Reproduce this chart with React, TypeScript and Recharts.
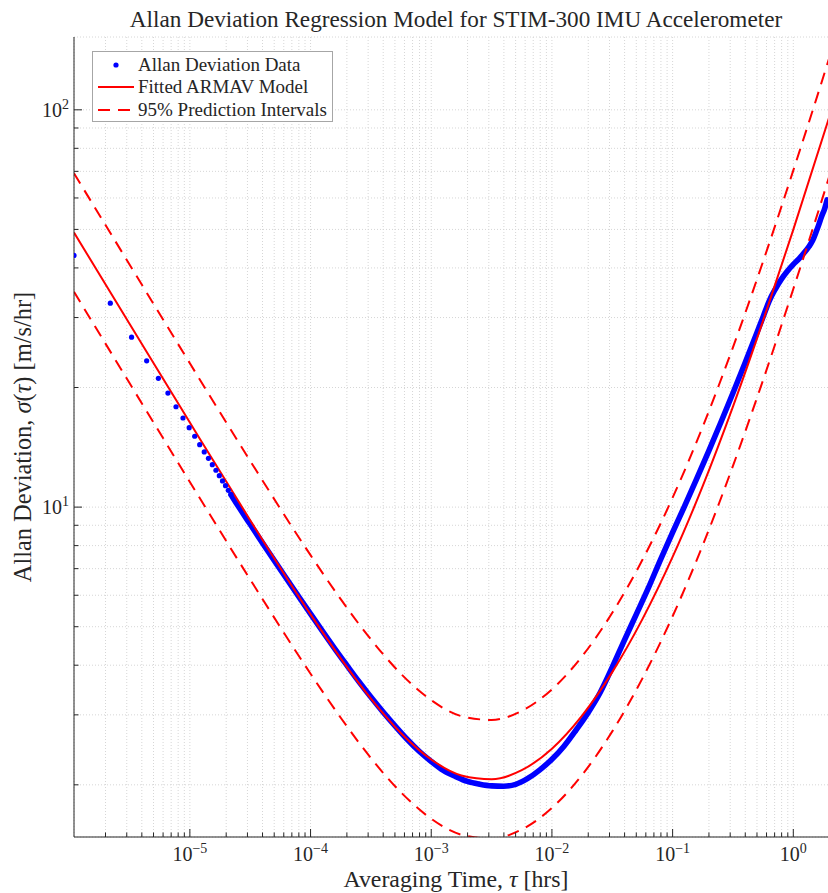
import { CartesianGrid, ComposedChart, Label, Legend, Line, Scatter, XAxis, YAxis } from 'recharts'

const FONT = '"Liberation Serif", "Times New Roman", serif'
const INK = '#262626'
const BLUE = '#0000ff'
const RED = '#ff0000'

const TITLE = 'Allan Deviation Regression Model for STIM-300 IMU Accelerometer'

// axis limits, hrs and m/s/hr
const X_MIN = 1.0965e-6
const X_MAX = 2.346
const Y_MIN = 1.478
const Y_MAX = 152.5

// first clusters (one sample step apart)
const sparseTau = [
  1.0965e-6, 2.193e-6, 3.2895e-6, 4.386e-6, 5.4825e-6, 6.579e-6, 7.6755e-6, 8.772e-6, 9.8685e-6, 1.0965e-5,
  1.2062e-5, 1.3158e-5, 1.4255e-5, 1.5351e-5, 1.6448e-5, 1.7544e-5, 1.8641e-5, 1.9737e-5, 2.0834e-5, 2.193e-5,
]
const sparseSigma = [
  43.0, 32.6, 26.77, 23.34, 21.09, 19.36, 17.89, 16.76, 15.85, 15.08,
  14.36, 13.77, 13.27, 12.79, 12.38, 12.0, 11.64, 11.32, 11.02, 10.75,
]

// the rest of the clusters (so many they overlap)
const denseTau = [
  2.193e-5, 2.3e-5, 3.162e-5, 3.981e-5, 5.012e-5, 6.31e-5, 7.943e-5, 1e-4, 1.259e-4, 1.585e-4, 1.995e-4,
  2.512e-4, 3.162e-4, 3.981e-4, 5.012e-4, 6.31e-4, 7.943e-4, 1e-3, 1.259e-3, 1.585e-3, 1.995e-3,
  2.512e-3, 3.162e-3, 3.981e-3, 5.012e-3, 6.31e-3, 7.943e-3, 0.01, 0.01259, 0.01585, 0.01995,
  0.02512, 0.03162, 0.03981, 0.05012, 0.0631, 0.07943, 0.1, 0.1259, 0.1585, 0.1995,
  0.2512, 0.3162, 0.3981, 0.5012, 0.5623, 0.631, 0.7079, 0.7943, 0.8913, 1.0,
  1.122, 1.259, 1.349, 1.445, 1.549, 1.622, 1.718, 1.82, 1.905,
]
const denseSigma = [
  10.75, 10.5, 9.05, 8.14, 7.333, 6.613, 5.966, 5.385, 4.867, 4.406, 4.002,
  3.64, 3.327, 3.053, 2.815, 2.605, 2.43, 2.29, 2.174, 2.1, 2.04,
  2.008, 1.988, 1.984, 2.006, 2.075, 2.181, 2.32, 2.502, 2.748, 3.039,
  3.416, 3.954, 4.62, 5.38, 6.27, 7.38, 8.64, 10.07, 11.79, 13.85,
  16.35, 19.37, 23.05, 27.54, 30.13, 33.02, 35.34, 37.43, 39.23, 40.83,
  42.29, 44.07, 45.28, 46.88, 49.38, 51.27, 53.97, 56.42, 59.3,
]

// fitted ARMAV model and its 95% prediction band
const modelTau = [
  1.0965e-6, 3.162e-6, 1e-5, 3.162e-5, 1e-4, 1.778e-4, 3.162e-4, 5.623e-4, 1e-3, 1.778e-3, 3.162e-3,
  5.623e-3, 0.01, 0.01778, 0.03162, 0.05623, 0.1, 0.1778, 0.3162, 0.5623, 1, 1.995, 2.4,
]
const fitSigma = [
  49.09, 28.94, 16.32, 9.268, 5.369, 4.16, 3.294, 2.697, 2.316, 2.112, 2.066,
  2.177, 2.466, 2.987, 3.843, 5.225, 7.492, 11.31, 17.91, 29.47, 49.92, 96.3, 115.6,
]
const upperSigma = [
  69.22, 40.81, 23.01, 13.07, 7.57, 5.866, 4.645, 3.803, 3.266, 2.978, 2.913,
  3.07, 3.477, 4.212, 5.419, 7.367, 10.56, 15.95, 25.25, 41.55, 70.39, 135.8, 163.0,
]
const lowerSigma = [
  34.82, 20.52, 11.57, 6.573, 3.808, 2.95, 2.336, 1.913, 1.643, 1.498, 1.465,
  1.544, 1.749, 2.118, 2.726, 3.706, 5.313, 8.021, 12.7, 20.9, 35.4, 68.3, 82.0,
]

// log axes: decades with 1..9 steps, labels only on the decades
const xDecades = [1e-6, 1e-5, 1e-4, 1e-3, 1e-2, 1e-1, 1]
const yDecades = [1, 10, 100]
const minorSteps = [1, 2, 3, 4, 5, 6, 7, 8, 9]

const logTicks = (decades: number[], lo: number, hi: number) =>
  decades.flatMap((d) => minorSteps.map((m) => m * d)).filter((v) => v >= lo && v <= hi)

const xTicks = logTicks(xDecades, X_MIN, X_MAX)
const yTicks = logTicks(yDecades, Y_MIN, Y_MAX)

const toRows = (tau: number[], sigma: number[]) => tau.map((t, i) => ({ tau: t, sigma: sigma[i] }))

const sparseData = toRows(sparseTau, sparseSigma)
const denseData = toRows(denseTau, denseSigma)
const fitData = toRows(modelTau, fitSigma)
const upperData = toRows(modelTau, upperSigma)
const lowerData = toRows(modelTau, lowerSigma)

const decade = (v: number) => {
  const p = Math.round(Math.log10(v))
  return Math.abs(Math.log10(v) - p) < 1e-6 ? p : null
}

const power = (p: number) => (p < 0 ? '\u2212' + Math.abs(p) : String(p))

function XTick(props: any) {
  const { x, y, payload, side } = props
  const p = decade(payload.value)
  const len = p !== null ? 8 : 4.5
  const dir = side === 'top' ? 1 : -1
  return (
    <g>
      <line x1={x} x2={x} y1={y} y2={y + dir * len} stroke={INK} strokeWidth={1} />
      {side !== 'top' && p !== null && (
        <text x={x} y={y + 24} textAnchor='middle' fontFamily={FONT} fontSize={20} fill={INK}>
          10
          <tspan dy={-8} fontSize={14}>
            {power(p)}
          </tspan>
        </text>
      )}
    </g>
  )
}

function YTick(props: any) {
  const { x, y, payload } = props
  const p = decade(payload.value)
  const len = p !== null ? 8 : 4.5
  return (
    <g>
      <line x1={x} x2={x + len} y1={y} y2={y} stroke={INK} strokeWidth={1} />
      {p !== null && (
        <text x={x - 5} y={y + 7} textAnchor='end' fontFamily={FONT} fontSize={20} fill={INK}>
          10
          <tspan dy={-8} fontSize={14}>
            {power(p)}
          </tspan>
        </text>
      )}
    </g>
  )
}

function XTitle(props: any) {
  const { x, y, width } = props.viewBox
  return (
    <text x={x + width / 2} y={y + 50} textAnchor='middle' fontFamily={FONT} fontSize={23.8} fill={INK}>
      Averaging Time, <tspan fontStyle='italic'>τ</tspan> [hrs]
    </text>
  )
}

function YTitle(props: any) {
  const { y, height } = props.viewBox
  const cx = 31
  const cy = y + height / 2
  return (
    <text
      x={cx}
      y={cy}
      transform={`rotate(-90 ${cx} ${cy})`}
      textAnchor='middle'
      fontFamily={FONT}
      fontSize={24.4}
      fill={INK}
    >
      Allan Deviation, <tspan fontStyle='italic'>σ</tspan>(<tspan fontStyle='italic'>τ</tspan>) [m/s/hr]
    </text>
  )
}

const legendRows = [
  { label: 'Allan Deviation Data', kind: 'dot' },
  { label: 'Fitted ARMAV Model', kind: 'solid' },
  { label: '95% Prediction Intervals', kind: 'dashed' },
]

function LegendBox() {
  return (
    <div
      style={{
        position: 'relative',
        width: 241,
        height: 71,
        boxSizing: 'border-box',
        border: '1px solid #a6a6a6',
        background: '#fff',
        fontFamily: FONT,
        fontSize: 19,
        color: INK,
      }}
    >
      {legendRows.map((r, i) => (
        <div key={r.label} style={{ position: 'absolute', left: 0, top: 2 + i * 22.3, height: 22, width: 239 }}>
          <svg width={40} height={22} style={{ position: 'absolute', left: 4, top: 0 }}>
            {r.kind === 'dot' && <circle cx={19} cy={11} r={2.6} fill={BLUE} />}
            {r.kind === 'solid' && <line x1={1} x2={37} y1={11} y2={11} stroke={RED} strokeWidth={2} />}
            {r.kind === 'dashed' && (
              <line x1={1} x2={37} y1={11} y2={11} stroke={RED} strokeWidth={2} strokeDasharray='12 8' />
            )}
          </svg>
          <span style={{ position: 'absolute', left: 45, top: 0, lineHeight: '22px', whiteSpace: 'nowrap' }}>
            {r.label}
          </span>
        </div>
      ))}
    </div>
  )
}

const dot = (p: any) => <circle cx={p.cx} cy={p.cy} r={2.6} fill={BLUE} />

export default function App() {
  return (
    <div style={{ position: 'absolute', left: 0, top: 0, width: 828, height: 893, overflow: 'hidden', background: '#fff' }}>
      <ComposedChart width={838} height={893} margin={{ top: 37, right: 0, bottom: 0, left: 0 }}>
        <CartesianGrid stroke='#d6d6d6' strokeDasharray='1 2' />
        <XAxis
          dataKey='tau'
          type='number'
          scale='log'
          domain={[X_MIN, X_MAX]}
          ticks={xTicks}
          interval={0}
          allowDataOverflow
          height={56}
          tickSize={0}
          tickMargin={0}
          tickLine={false}
          axisLine={{ stroke: INK }}
          tick={(p: any) => <XTick {...p} side='bottom' />}
        >
          <Label content={XTitle} />
        </XAxis>
        <XAxis
          xAxisId='top'
          orientation='top'
          type='number'
          scale='log'
          domain={[X_MIN, X_MAX]}
          ticks={xTicks}
          interval={0}
          allowDataOverflow
          height={0}
          tickSize={0}
          tickMargin={0}
          tickLine={false}
          axisLine={{ stroke: INK }}
          tick={(p: any) => <XTick {...p} side='top' />}
        />
        <YAxis
          dataKey='sigma'
          type='number'
          scale='log'
          domain={[Y_MIN, Y_MAX]}
          ticks={yTicks}
          interval={0}
          allowDataOverflow
          width={74}
          tickSize={0}
          tickMargin={0}
          tickLine={false}
          axisLine={{ stroke: INK }}
          tick={(p: any) => <YTick {...p} />}
        >
          <Label content={YTitle} />
        </YAxis>
        <Legend
          layout='vertical'
          align='center'
          verticalAlign='middle'
          wrapperStyle={{ left: 92, top: 51, width: 241, height: 71 }}
          content={() => <LegendBox />}
        />
        <Line
          data={denseData}
          dataKey='sigma'
          type='monotone'
          stroke={BLUE}
          strokeWidth={5.6}
          strokeLinecap='round'
          strokeLinejoin='round'
          dot={false}
          isAnimationActive={false}
        />
        <Line data={fitData} dataKey='sigma' type='monotone' stroke={RED} strokeWidth={2} dot={false} isAnimationActive={false} />
        <Line
          data={upperData}
          dataKey='sigma'
          type='monotone'
          stroke={RED}
          strokeWidth={2}
          strokeDasharray='12 8'
          dot={false}
          isAnimationActive={false}
        />
        <Line
          data={lowerData}
          dataKey='sigma'
          type='monotone'
          stroke={RED}
          strokeWidth={2}
          strokeDasharray='12 8'
          dot={false}
          isAnimationActive={false}
        />
        <Scatter data={sparseData} dataKey='sigma' shape={dot} isAnimationActive={false} />
      </ComposedChart>
      <svg width={828} height={36} style={{ position: 'absolute', left: 0, top: 0 }}>
        <text x={456} y={27} textAnchor='middle' fontFamily={FONT} fontSize={23.2} fill={INK}>
          {TITLE}
        </text>
      </svg>
    </div>
  )
}
